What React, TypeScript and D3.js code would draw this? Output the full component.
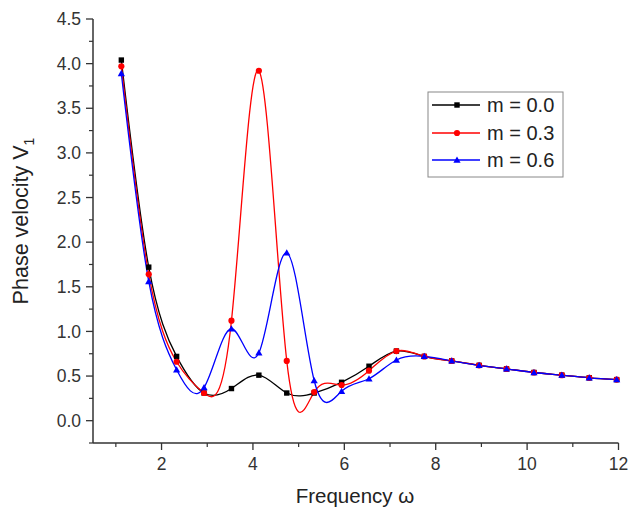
import React from "react";
import * as d3 from "d3";

const freq = [1.12, 1.72, 2.33, 2.93, 3.53, 4.13, 4.74, 5.34, 5.94, 6.54, 7.14, 7.75, 8.35, 8.95, 9.55, 10.15, 10.76, 11.36, 11.96];
const m00 = [4.04, 1.72, 0.72, 0.31, 0.36, 0.51, 0.31, 0.31, 0.43, 0.61, 0.78, 0.72, 0.67, 0.62, 0.58, 0.54, 0.51, 0.48, 0.46];
const m03 = [3.97, 1.64, 0.66, 0.31, 1.12, 3.92, 0.67, 0.32, 0.40, 0.56, 0.78, 0.72, 0.67, 0.62, 0.58, 0.54, 0.51, 0.48, 0.46];
const m06 = [3.89, 1.56, 0.57, 0.37, 1.03, 0.76, 1.88, 0.45, 0.33, 0.47, 0.68, 0.72, 0.67, 0.62, 0.58, 0.54, 0.51, 0.48, 0.46];
const seriesNames = ["m = 0.0", "m = 0.3", "m = 0.6"];
const seriesColors = ["#000000", "#ff0000", "#0000ff"];
const xTicks = [2, 4, 6, 8, 10, 12];
const xMinor = [1, 3, 5, 7, 9, 11];
const yTicks = [0, 0.5, 1, 1.5, 2, 2.5, 3, 3.5, 4, 4.5];
const yMinor = [-0.25, 0.25, 0.75, 1.25, 1.75, 2.25, 2.75, 3.25, 3.75, 4.25];

const W = 629, H = 512;
const L = 93, R = 618.5, T = 19, B = 443;

export default function App() {
  const x = d3.scaleLinear().domain([0.5, 12]).range([L, R]);
  const y = d3.scaleLinear().domain([-0.25, 4.5]).range([B, T]);
  const line = d3.line<[number, number]>().x(d => x(d[0])).y(d => y(d[1])).curve(d3.curveNatural);
  const all = [m00, m03, m06];
  const font = "Arial, 'Liberation Sans', sans-serif";
  const axisColor = "#333";

  const marker = (k: number, cx: number, cy: number, key: string) => {
    const c = seriesColors[k];
    if (k === 0) return <rect key={key} x={cx - 2.7} y={cy - 2.7} width={5.4} height={5.4} fill={c} />;
    if (k === 1) return <circle key={key} cx={cx} cy={cy} r={3.1} fill={c} />;
    const s = 3.6;
    return <path key={key} d={`M${cx},${cy - s}L${cx + s},${cy + s * 0.75}L${cx - s},${cy + s * 0.75}Z`} fill={c} />;
  };

  const legX = 428, legY = 92, legW = 135, legH = 85;
  const rowY = [105, 133, 160];

  return (
    <svg width={W} height={H} style={{ position: "absolute", left: 0, top: 0, background: "#fff" }} fontFamily={font}>
      <rect x={0} y={0} width={W} height={H} fill="#fff" />
      {/* axes */}
      <line x1={L} x2={L} y1={T} y2={B} stroke={axisColor} strokeWidth={1.5} />
      <line x1={L} x2={R} y1={B} y2={B} stroke={axisColor} strokeWidth={1.5} />
      {yTicks.map(t => (
        <g key={"yt" + t}>
          <line x1={L - 7} x2={L} y1={y(t)} y2={y(t)} stroke={axisColor} strokeWidth={1.3} />
          <text x={L - 12} y={y(t)} dy="0.35em" textAnchor="end" fontSize={17.5} fill="#333">{d3.format(".1f")(t)}</text>
        </g>
      ))}
      {yMinor.map(t => (
        <line key={"ym" + t} x1={L - 4} x2={L} y1={y(t)} y2={y(t)} stroke={axisColor} strokeWidth={1.2} />
      ))}
      {xTicks.map(t => (
        <g key={"xt" + t}>
          <line x1={x(t)} x2={x(t)} y1={B} y2={B + 7} stroke={axisColor} strokeWidth={1.3} />
          <text x={x(t)} y={B + 27} textAnchor="middle" fontSize={17.5} fill="#333">{t}</text>
        </g>
      ))}
      {xMinor.map(t => (
        <line key={"xm" + t} x1={x(t)} x2={x(t)} y1={B} y2={B + 4} stroke={axisColor} strokeWidth={1.2} />
      ))}
      <text x={355} y={503} textAnchor="middle" fontSize={20.5} fill="#222">Frequency ω</text>
      <text transform={`translate(28,221) rotate(-90)`} textAnchor="middle" fontSize={21.5} fill="#222">
        Phase velocity V<tspan fontSize={14} dy={6}>1</tspan>
      </text>
      {/* series */}
      {all.map((vals, k) => (
        <g key={"s" + k}>
          <path d={line(freq.map((f, i) => [f, vals[i]] as [number, number])) || ""} fill="none" stroke={seriesColors[k]} strokeWidth={1.3} />
        </g>
      ))}
      {all.map((vals, k) => (
        <g key={"m" + k}>{freq.map((f, i) => marker(k, x(f), y(vals[i]), `mk${k}-${i}`))}</g>
      ))}
      {/* legend */}
      <rect x={legX} y={legY} width={legW} height={legH} fill="#fff" stroke="#888" strokeWidth={1} />
      {seriesNames.map((n, k) => (
        <g key={"l" + k}>
          <line x1={432} x2={480} y1={rowY[k]} y2={rowY[k]} stroke={seriesColors[k]} strokeWidth={1.3} />
          {marker(k, 457, rowY[k], "lm" + k)}
          <text x={487} y={rowY[k]} dy="0.35em" fontSize={20} fill="#222">{n}</text>
        </g>
      ))}
    </svg>
  );
}
